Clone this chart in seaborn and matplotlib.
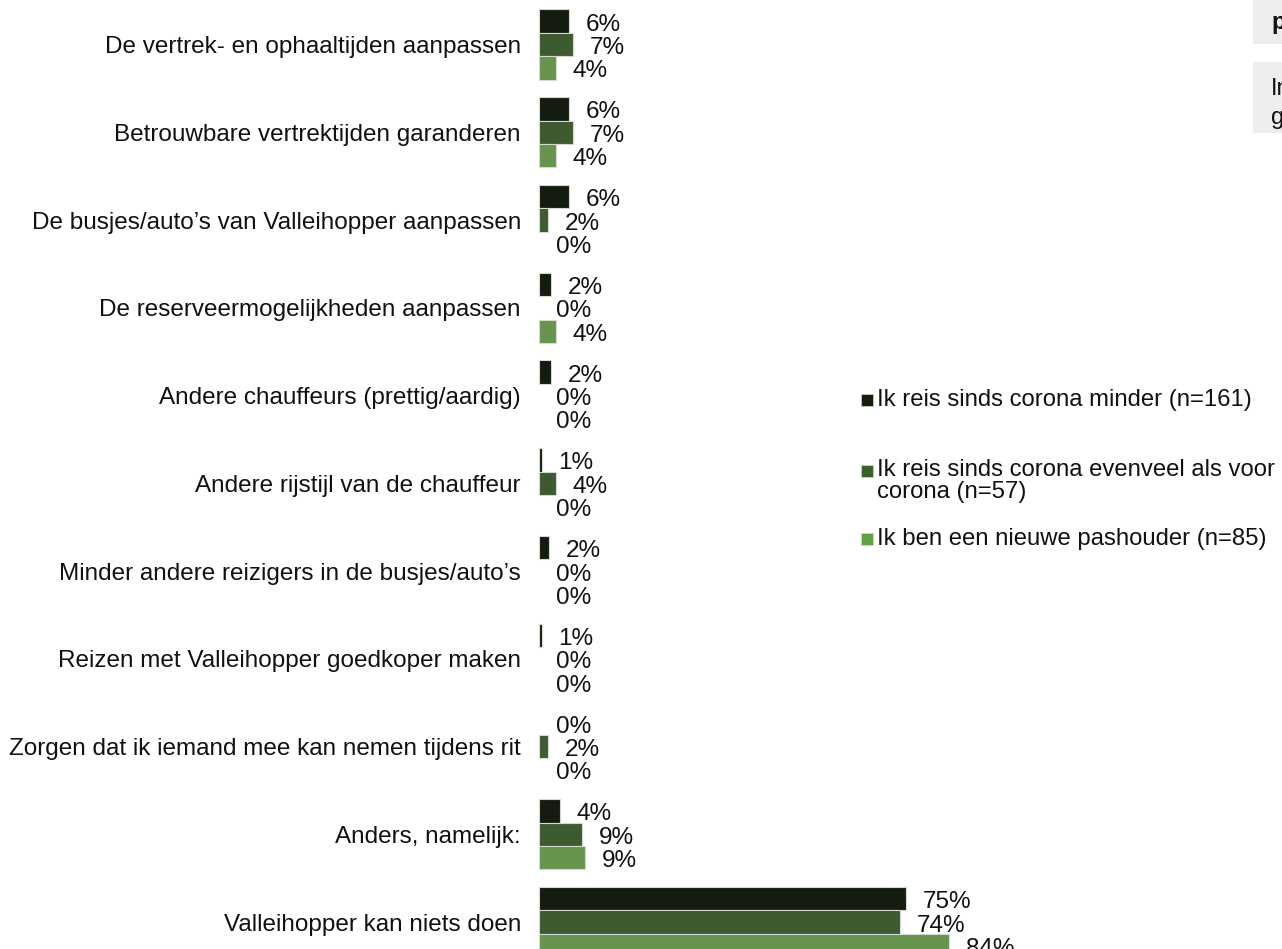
import matplotlib
matplotlib.use("Agg")
import matplotlib.pyplot as plt
import seaborn as sns
import pandas as pd
from matplotlib.patches import Rectangle

categories = [
    "De vertrek- en ophaaltijden aanpassen",
    "Betrouwbare vertrektijden garanderen",
    "De busjes/auto\u2019s van Valleihopper aanpassen",
    "De reserveermogelijkheden aanpassen",
    "Andere chauffeurs (prettig/aardig)",
    "Andere rijstijl van de chauffeur",
    "Minder andere reizigers in de busjes/auto\u2019s",
    "Reizen met Valleihopper goedkoper maken",
    "Zorgen dat ik iemand mee kan nemen tijdens rit",
    "Anders, namelijk:",
    "Valleihopper kan niets doen",
]
series = [
    "Ik reis sinds corona minder (n=161)",
    "Ik reis sinds corona evenveel als voor corona (n=57)",
    "Ik ben een nieuwe pashouder (n=85)",
]
legend_labels = [
    "Ik reis sinds corona minder (n=161)",
    "Ik reis sinds corona evenveel als voor\ncorona (n=57)",
    "Ik ben een nieuwe pashouder (n=85)",
]
minder = [6.2, 6.2, 6.2, 2.4, 2.4, 0.6, 2.0, 0.6, 0.0, 4.3, 75.2]
evenveel = [7.0, 7.0, 1.8, 0.0, 0.0, 3.5, 0.0, 0.0, 1.8, 8.8, 74.0]
nieuw = [3.5, 3.5, 0.0, 3.5, 0.0, 0.0, 0.0, 0.0, 0.0, 9.4, 84.0]
colors = ["#141E0E", "#3C6129", "#62A043"]

rows = []
for vals, s in zip([minder, evenveel, nieuw], series):
    for c, v in zip(categories, vals):
        rows.append({"cat": c, "val": v, "series": s})
df = pd.DataFrame(rows)

sns.set_style("white")
plt.rcParams["font.family"] = ["Liberation Sans", "DejaVu Sans"]

W, H = 1282, 949
fig = plt.figure(figsize=(W / 100, H / 100), dpi=100)
left_px, top_px, bottom_px = 539, 0.65, 966
ax = fig.add_axes([left_px / W, (H - bottom_px) / H, 488 / W, (bottom_px - top_px) / H])

sns.barplot(data=df, y="cat", x="val", hue="series", orient="h",
            palette=colors, edgecolor="#d3d9cf", linewidth=0.8,
            width=0.8, ax=ax, legend=False, order=categories, hue_order=series)

for p in ax.patches:
    if p.get_width() == 0:
        p.set_linewidth(0)

for cont in ax.containers:
    texts = ax.bar_label(cont, labels=[f"{b.get_width():.0f}%" for b in cont],
                         padding=12, fontsize=17.5, color="#111111")
    for t in texts:
        t.xyann = (12, -2.5)

ax.set_xlim(0, 100)
ax.set_ylim(len(categories) - 0.5, -0.5)
ax.set_xlabel("")
ax.set_ylabel("")
ax.set_xticks([])
ax.tick_params(axis="y", length=0, pad=13, labelsize=17.5, labelcolor="#111111")
for sp in ax.spines.values():
    sp.set_visible(False)

# legend (manual, matching layout)
leg_y = [400, 471, 539]
for lab, col, y in zip(legend_labels, colors, leg_y):
    fig.patches.append(Rectangle((861 / W, (H - y - 6) / H), 12 / W, 12 / H,
                                 transform=fig.transFigure, facecolor=col,
                                 edgecolor="#d3d9cf", linewidth=0.5))
    if "\n" in lab:
        fig.text(877 / W, (H - y + 12.5) / H, lab, fontsize=17.2, va="top", ha="left",
                 color="#111111", linespacing=1.05)
    else:
        fig.text(877 / W, (H - y) / H, lab, fontsize=17.2, va="center", ha="left",
                 color="#111111")

# clipped info boxes at top right
fig.patches.append(Rectangle((1253 / W, (H - 44) / H), 60 / W, 44 / H,
                             transform=fig.transFigure, facecolor="#ECEEEC", edgecolor="none"))
fig.patches.append(Rectangle((1253 / W, (H - 133) / H), 60 / W, 71 / H,
                             transform=fig.transFigure, facecolor="#ECEEEC", edgecolor="none"))
fig.text(1271 / W, (H - 22) / H, "p", fontsize=17, fontweight="bold", va="center",
         ha="left", color="#111111")
fig.text(1271 / W, (H - 89) / H, "In", fontsize=17, va="center", ha="left", color="#111111")
fig.text(1271 / W, (H - 124) / H, "g", fontsize=17, va="baseline", ha="left", color="#111111")

fig.savefig("out.png", dpi=100)
